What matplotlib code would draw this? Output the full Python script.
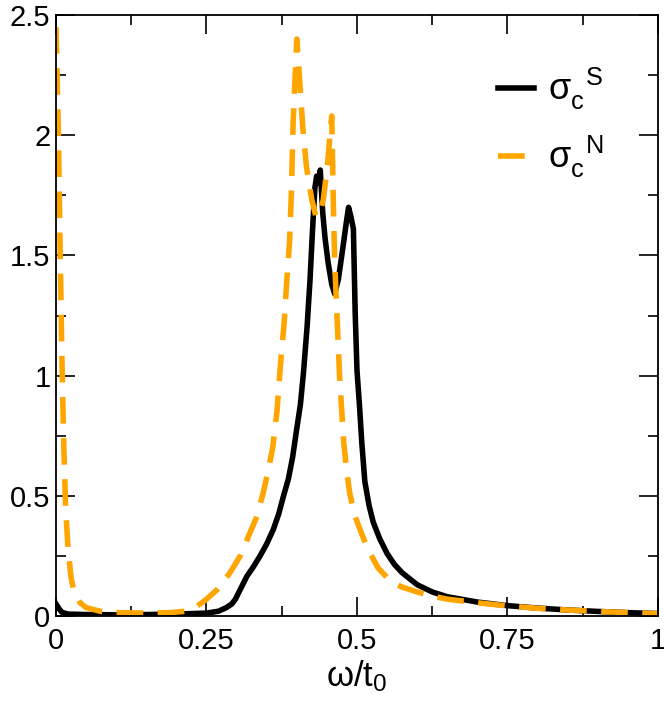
import matplotlib
matplotlib.use("Agg")
import matplotlib.pyplot as plt
from matplotlib.ticker import MultipleLocator

plt.rcParams['font.family'] = ['Liberation Sans', 'DejaVu Sans']
plt.rcParams['mathtext.fontset'] = 'custom'
plt.rcParams['mathtext.rm'] = 'Liberation Sans'
plt.rcParams['mathtext.it'] = 'Liberation Sans'
plt.rcParams['mathtext.bf'] = 'Liberation Sans'

# sigma_c^S (superconducting) - black solid
w_S = [0, 0.005, 0.01, 0.02, 0.05, 0.1, 0.15, 0.2, 0.25, 0.27, 0.283, 0.292,
       0.298, 0.303, 0.31, 0.317, 0.328, 0.339, 0.35, 0.361, 0.37, 0.378,
       0.386, 0.393, 0.40, 0.406, 0.411, 0.417, 0.422, 0.426,
       0.430, 0.433, 0.436, 0.439, 0.443, 0.447, 0.452, 0.458, 0.463, 0.469,
       0.477, 0.483, 0.486, 0.490, 0.494, 0.497, 0.500, 0.504, 0.508, 0.513,
       0.52, 0.527, 0.538, 0.55, 0.562, 0.575, 0.59, 0.6, 0.625, 0.65, 0.7,
       0.75, 0.8, 0.85, 0.9, 0.95, 1.0]
s_S = [0.05, 0.03, 0.015, 0.008, 0.006, 0.005, 0.006, 0.008, 0.012, 0.02,
       0.035, 0.05, 0.07, 0.095, 0.13, 0.165, 0.205, 0.25, 0.30, 0.36, 0.425,
       0.50, 0.57, 0.66, 0.78, 0.88, 1.01, 1.20, 1.40, 1.60, 1.78, 1.83, 1.80,
       1.855, 1.68, 1.57, 1.47, 1.38, 1.34, 1.40, 1.54, 1.65, 1.70, 1.66,
       1.61, 1.26, 1.02, 0.88, 0.72, 0.56, 0.46, 0.39, 0.32, 0.26, 0.215,
       0.18, 0.15, 0.13, 0.10, 0.08, 0.058, 0.043, 0.033, 0.025, 0.019, 0.014,
       0.01]

# sigma_c^N (normal) - orange dashed
w_N = [0, 0.004, 0.007, 0.010, 0.013, 0.016, 0.02, 0.025, 0.03, 0.04, 0.05,
       0.073, 0.1, 0.15, 0.19, 0.215, 0.234, 0.25, 0.267, 0.289, 0.306, 0.322,
       0.333, 0.344, 0.352, 0.36, 0.367, 0.373, 0.379, 0.383, 0.388, 0.391,
       0.394, 0.40, 0.405, 0.41, 0.416, 0.425, 0.432, 0.438, 0.444, 0.451,
       0.458, 0.4595, 0.461, 0.463, 0.466, 0.469, 0.471, 0.478, 0.483, 0.488,
       0.496, 0.505, 0.516, 0.522, 0.535, 0.55, 0.562, 0.575, 0.6, 0.625,
       0.65, 0.7, 0.75, 0.8, 0.85, 0.9, 0.95, 1.0]
s_N = [2.45, 2.0, 1.5, 1.05, 0.7, 0.45, 0.28, 0.16, 0.10, 0.055, 0.035,
       0.02, 0.014, 0.012, 0.014, 0.02, 0.04, 0.07, 0.108, 0.18, 0.25, 0.345,
       0.41, 0.51, 0.60, 0.70, 0.85, 1.05, 1.22, 1.38, 1.56, 1.76, 2.06, 2.40,
       2.22, 2.03, 1.87, 1.73, 1.66, 1.68, 1.73, 1.88, 2.08, 1.88, 1.68, 1.47,
       1.29, 1.12, 1.0, 0.72, 0.60, 0.51, 0.42, 0.36, 0.29, 0.26, 0.20, 0.16,
       0.135, 0.12, 0.10, 0.083, 0.07, 0.055, 0.042, 0.032, 0.025, 0.019,
       0.014, 0.01]

x_ticks = [0, 0.25, 0.5, 0.75, 1]
x_ticklabels = ['0', '0.25', '0.5', '0.75', '1']
y_ticks = [0, 0.5, 1, 1.5, 2, 2.5]
y_ticklabels = ['0', '0.5', '1', '1.5', '2', '2.5']

fig = plt.figure(figsize=(6.64, 7.07), dpi=100)
ax = fig.add_axes([56/664, (707-616)/707, (658-56)/664, (616-15)/707])

ax.plot(w_S, s_S, color='black', lw=4.0, label=r'$\sigma_{c}^{\ \ S}$',
        solid_joinstyle='round')
ax.plot(w_N, s_N, color='#FFA500', lw=4.0, dashes=(4.8, 2.6),
        label=r'$\sigma_{c}^{\ \ N}$')

ax.set_xlim(0, 1)
ax.set_ylim(0, 2.5)
ax.set_xticks(x_ticks)
ax.set_xticklabels(x_ticklabels)
ax.set_yticks(y_ticks)
ax.set_yticklabels(y_ticklabels)
ax.xaxis.set_minor_locator(MultipleLocator(0.125))
ax.yaxis.set_minor_locator(MultipleLocator(0.25))
ax.tick_params(which='both', direction='in', top=True, right=True,
               labelsize=21, width=1.2)
ax.tick_params(which='major', length=14)
ax.tick_params(which='minor', length=7)
ax.tick_params(axis='x', pad=8)
ax.tick_params(axis='y', pad=4)
for s in ax.spines.values():
    s.set_linewidth(1.3)

ax.set_xlabel(r'$\omega$/t$_0$', fontsize=25, labelpad=2)

ax.legend(loc='upper left', bbox_to_anchor=(0.734, 0.915), frameon=False,
          borderaxespad=0, borderpad=0,
          fontsize=26, handlelength=1.0, handletextpad=0.4, labelspacing=0.6)

fig.savefig('out.png', dpi=100)
